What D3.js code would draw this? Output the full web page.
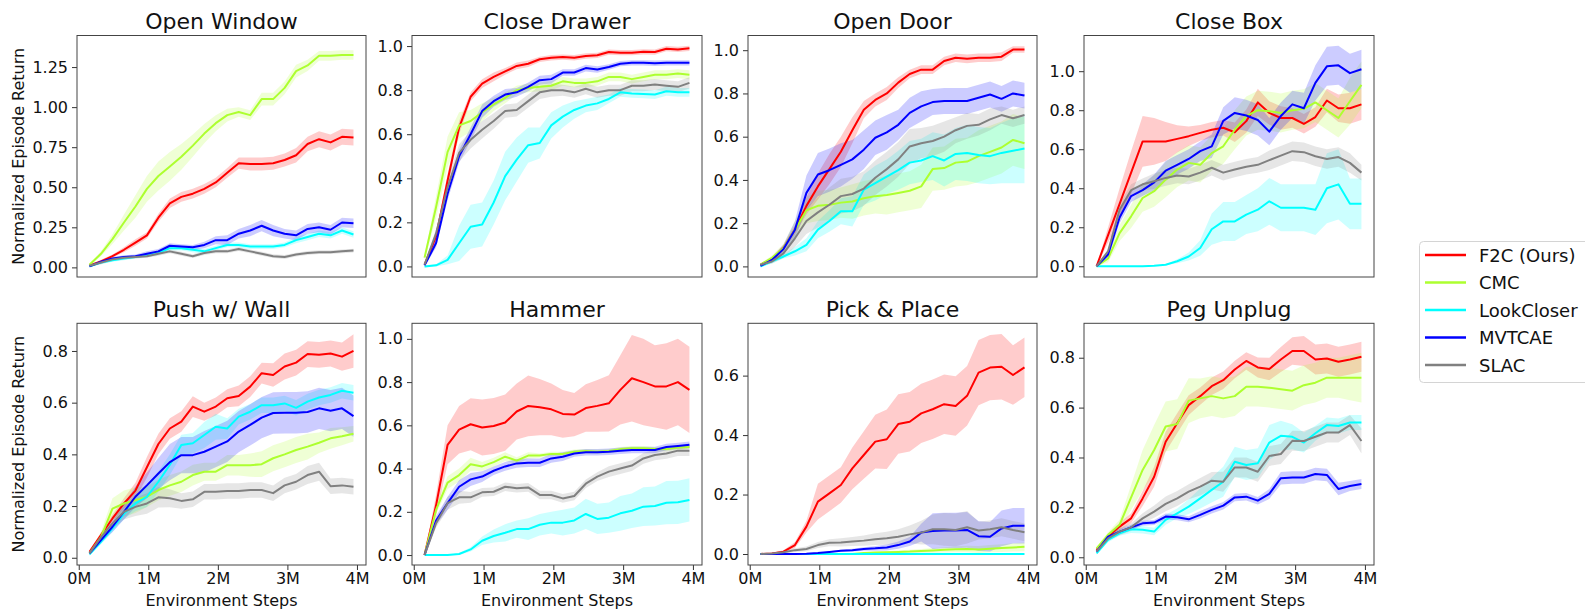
<!DOCTYPE html>
<html><head><meta charset="utf-8">
<script src="https://cdn.jsdelivr.net/npm/d3@7"></script>
<style>
body{margin:0;background:#fff;}
svg text{font-family:"DejaVu Sans",sans-serif;fill:#111;}
</style>
</head><body>
<svg id="chart" width="1585" height="610"></svg>
<script>
// ---------------- DATA ----------------
const steps = [0.155,0.32,0.485,0.65,0.815,0.98,1.145,1.31,1.475,1.64,1.805,1.97,2.135,2.3,2.465,2.63,2.795,2.96,3.125,3.29,3.455,3.62,3.785,3.95];
const seriesNames = ["F2C (Ours)","CMC","LookCloser","MVTCAE","SLAC"];
const seriesColors = ["#ff0000","#adff2f","#00ffff","#0000ff","#808080"];
const xTickValues = [0,1,2,3,4];
const xTickLabels = ["0M","1M","2M","3M","4M"];
const taskTitles = ["Open Window","Close Drawer","Open Door","Close Box","Push w/ Wall","Hammer","Pick & Place","Peg Unplug"];
const xAxisLabel = "Environment Steps";
const yAxisLabel = "Normalized Episode Return";

// Open Window
const owF2C = [0.012,0.037,0.07,0.11,0.155,0.20,0.31,0.40,0.44,0.46,0.49,0.53,0.59,0.65,0.645,0.645,0.65,0.67,0.70,0.77,0.80,0.78,0.815,0.81];
const owCMC = [0.017,0.085,0.176,0.28,0.38,0.49,0.57,0.63,0.69,0.76,0.835,0.90,0.95,0.97,0.95,1.05,1.05,1.12,1.225,1.26,1.32,1.32,1.325,1.325];
const owLC  = [0.006,0.03,0.045,0.055,0.065,0.075,0.09,0.12,0.12,0.11,0.10,0.12,0.14,0.14,0.13,0.13,0.13,0.14,0.17,0.19,0.21,0.20,0.23,0.205];
const owMV  = [0.006,0.035,0.055,0.065,0.07,0.085,0.10,0.135,0.13,0.125,0.14,0.17,0.17,0.21,0.23,0.26,0.23,0.21,0.20,0.24,0.25,0.235,0.28,0.275];
const owSL  = [0.01,0.03,0.05,0.06,0.065,0.07,0.085,0.10,0.085,0.07,0.09,0.10,0.10,0.115,0.10,0.085,0.07,0.065,0.08,0.09,0.095,0.095,0.10,0.105];
const owF2CErr = [0.005,0.01,0.01,0.015,0.02,0.02,0.025,0.03,0.03,0.03,0.03,0.03,0.03,0.035,0.04,0.04,0.04,0.04,0.045,0.045,0.05,0.05,0.05,0.05];
const owCMCErr = [0.005,0.015,0.03,0.05,0.07,0.08,0.09,0.09,0.08,0.07,0.06,0.05,0.04,0.03,0.03,0.04,0.04,0.04,0.04,0.035,0.03,0.03,0.03,0.03];
const owLCErr  = [0.005,0.01,0.01,0.01,0.01,0.01,0.015,0.015,0.015,0.015,0.015,0.015,0.015,0.015,0.015,0.015,0.015,0.015,0.02,0.02,0.02,0.02,0.02,0.02];
const owMVErr  = [0.005,0.01,0.01,0.01,0.01,0.015,0.015,0.015,0.015,0.015,0.02,0.025,0.03,0.03,0.035,0.035,0.035,0.03,0.03,0.03,0.03,0.03,0.03,0.03];
const owSLErr  = [0.005,0.01,0.01,0.01,0.01,0.01,0.012,0.012,0.012,0.012,0.012,0.012,0.012,0.012,0.012,0.012,0.012,0.012,0.012,0.012,0.012,0.012,0.012,0.012];

// Close Drawer
const cdF2C = [0.008,0.136,0.39,0.63,0.77,0.83,0.86,0.885,0.91,0.92,0.94,0.947,0.95,0.947,0.955,0.958,0.973,0.97,0.97,0.974,0.973,0.988,0.985,0.99];
const cdCMC = [0.04,0.27,0.52,0.64,0.66,0.70,0.735,0.765,0.80,0.81,0.815,0.82,0.84,0.833,0.833,0.84,0.86,0.86,0.85,0.86,0.87,0.87,0.875,0.87];
const cdLC  = [0.0,0.005,0.03,0.105,0.18,0.19,0.29,0.41,0.485,0.55,0.56,0.64,0.68,0.71,0.73,0.74,0.76,0.79,0.785,0.783,0.78,0.795,0.79,0.79];
const cdMV  = [0.005,0.106,0.33,0.50,0.60,0.705,0.75,0.78,0.79,0.815,0.845,0.85,0.88,0.88,0.90,0.894,0.905,0.92,0.924,0.924,0.922,0.924,0.924,0.924];
const cdSL  = [0.008,0.15,0.36,0.515,0.575,0.62,0.66,0.705,0.71,0.75,0.79,0.80,0.80,0.79,0.806,0.79,0.80,0.80,0.82,0.82,0.826,0.82,0.815,0.833];
const cdF2CErr = [0.005,0.02,0.03,0.03,0.02,0.02,0.02,0.015,0.015,0.015,0.012,0.012,0.012,0.012,0.012,0.012,0.012,0.012,0.012,0.012,0.012,0.012,0.012,0.012];
const cdCMCErr = [0.01,0.05,0.07,0.06,0.05,0.04,0.03,0.025,0.02,0.02,0.02,0.02,0.02,0.02,0.02,0.02,0.02,0.02,0.02,0.02,0.02,0.02,0.02,0.02];
const cdLCErr  = [0.005,0.005,0.02,0.08,0.1,0.1,0.1,0.11,0.1,0.08,0.07,0.06,0.05,0.04,0.03,0.03,0.02,0.02,0.02,0.02,0.02,0.02,0.02,0.02];
const cdMVErr  = [0.005,0.02,0.03,0.03,0.03,0.03,0.025,0.025,0.02,0.02,0.02,0.02,0.015,0.015,0.015,0.015,0.012,0.012,0.012,0.012,0.012,0.012,0.012,0.012];
const cdSLErr  = [0.005,0.02,0.03,0.04,0.04,0.04,0.035,0.03,0.03,0.03,0.03,0.03,0.025,0.025,0.025,0.025,0.025,0.025,0.025,0.025,0.025,0.025,0.025,0.025];

// Open Door
const odF2C = [0.008,0.034,0.085,0.17,0.28,0.37,0.45,0.53,0.63,0.725,0.77,0.80,0.85,0.89,0.91,0.91,0.95,0.965,0.96,0.965,0.965,0.97,1.003,1.003];
const odCMC = [0.008,0.04,0.085,0.17,0.26,0.28,0.285,0.295,0.30,0.315,0.325,0.33,0.34,0.35,0.37,0.45,0.455,0.48,0.485,0.51,0.53,0.55,0.585,0.57];
const odLC  = [0.0,0.023,0.046,0.07,0.10,0.17,0.21,0.255,0.255,0.355,0.385,0.415,0.445,0.48,0.49,0.51,0.49,0.52,0.525,0.515,0.51,0.525,0.535,0.545];
const odMV  = [0.003,0.03,0.08,0.17,0.34,0.425,0.445,0.47,0.495,0.54,0.595,0.62,0.655,0.71,0.74,0.76,0.765,0.765,0.765,0.78,0.795,0.775,0.80,0.79];
const odSL  = [0.008,0.023,0.06,0.13,0.21,0.25,0.285,0.325,0.335,0.36,0.41,0.45,0.495,0.555,0.57,0.58,0.60,0.63,0.65,0.655,0.68,0.70,0.685,0.70];
const odF2CErr = [0.005,0.01,0.015,0.02,0.04,0.06,0.07,0.07,0.06,0.04,0.03,0.03,0.025,0.02,0.02,0.02,0.02,0.02,0.02,0.02,0.02,0.02,0.015,0.015];
const odCMCErr = [0.005,0.01,0.02,0.04,0.06,0.07,0.07,0.07,0.08,0.08,0.08,0.09,0.09,0.09,0.1,0.1,0.1,0.11,0.11,0.12,0.12,0.12,0.12,0.12];
const odLCErr  = [0.005,0.01,0.01,0.02,0.03,0.04,0.05,0.06,0.07,0.07,0.08,0.08,0.09,0.1,0.1,0.11,0.12,0.12,0.13,0.13,0.13,0.14,0.15,0.16];
const odMVErr  = [0.005,0.01,0.02,0.04,0.08,0.1,0.1,0.1,0.09,0.09,0.08,0.08,0.07,0.07,0.07,0.06,0.06,0.06,0.06,0.06,0.06,0.06,0.06,0.06];
const odSLErr  = [0.005,0.01,0.02,0.04,0.06,0.07,0.08,0.08,0.08,0.08,0.08,0.08,0.08,0.08,0.07,0.07,0.07,0.06,0.06,0.05,0.05,0.04,0.04,0.04];

// Close Box
const cbF2C = [0.0,0.16,0.32,0.48,0.64,0.64,0.64,0.653,0.667,0.684,0.70,0.71,0.687,0.744,0.84,0.786,0.76,0.76,0.73,0.765,0.85,0.81,0.81,0.83];
const cbCMC = [0.0,0.04,0.17,0.256,0.35,0.385,0.444,0.496,0.53,0.52,0.58,0.615,0.70,0.77,0.80,0.795,0.786,0.80,0.807,0.84,0.80,0.76,0.846,0.93];
const cbLC  = [0,0,0,0,0,0.003,0.008,0.026,0.05,0.094,0.19,0.23,0.23,0.265,0.29,0.333,0.30,0.30,0.30,0.29,0.40,0.42,0.32,0.32];
const cbMV  = [0.0,0.06,0.25,0.36,0.39,0.43,0.49,0.52,0.55,0.59,0.615,0.745,0.786,0.773,0.75,0.69,0.77,0.83,0.81,0.94,1.025,1.03,0.99,1.01];
const cbSL  = [0.0,0.077,0.29,0.39,0.42,0.436,0.453,0.465,0.46,0.48,0.505,0.48,0.496,0.51,0.52,0.544,0.567,0.59,0.585,0.564,0.55,0.56,0.53,0.48];
const cbF2CErr = [0.0,0.04,0.08,0.11,0.13,0.12,0.1,0.07,0.05,0.04,0.04,0.04,0.05,0.06,0.07,0.06,0.06,0.05,0.05,0.05,0.06,0.07,0.08,0.08];
const cbCMCErr = [0.0,0.02,0.04,0.06,0.07,0.08,0.09,0.09,0.09,0.09,0.09,0.09,0.1,0.1,0.1,0.1,0.1,0.1,0.1,0.1,0.1,0.1,0.12,0.12];
const cbLCErr  = [0,0,0,0,0,0,0.002,0.01,0.02,0.04,0.08,0.1,0.1,0.1,0.11,0.12,0.12,0.12,0.12,0.13,0.18,0.18,0.13,0.13];
const cbMVErr  = [0,0.02,0.03,0.03,0.03,0.04,0.05,0.05,0.05,0.05,0.06,0.07,0.08,0.08,0.08,0.07,0.07,0.07,0.08,0.09,0.1,0.1,0.1,0.1];
const cbSLErr  = [0,0.01,0.03,0.03,0.03,0.04,0.04,0.04,0.04,0.04,0.04,0.04,0.04,0.04,0.04,0.05,0.05,0.05,0.05,0.05,0.05,0.05,0.05,0.04];

// Push w/ Wall
const pwF2C = [0.023,0.088,0.152,0.21,0.26,0.35,0.44,0.50,0.527,0.585,0.565,0.585,0.617,0.626,0.662,0.714,0.707,0.74,0.755,0.788,0.785,0.79,0.778,0.80];
const pwCMC = [0.017,0.08,0.19,0.21,0.223,0.236,0.262,0.28,0.294,0.32,0.333,0.333,0.358,0.358,0.358,0.362,0.385,0.40,0.417,0.43,0.445,0.462,0.47,0.48];
const pwLC  = [0.013,0.062,0.114,0.17,0.21,0.236,0.294,0.36,0.436,0.443,0.475,0.507,0.50,0.546,0.565,0.59,0.59,0.597,0.58,0.604,0.62,0.63,0.646,0.638];
const pwMV  = [0.017,0.068,0.12,0.178,0.236,0.28,0.326,0.37,0.397,0.397,0.41,0.43,0.45,0.488,0.514,0.542,0.56,0.561,0.561,0.564,0.578,0.569,0.578,0.548];
const pwSL  = [0.017,0.08,0.133,0.178,0.197,0.21,0.234,0.23,0.22,0.226,0.255,0.255,0.258,0.258,0.262,0.262,0.25,0.28,0.294,0.32,0.333,0.277,0.28,0.275];
const pwF2CErr = [0.005,0.01,0.015,0.02,0.03,0.04,0.04,0.04,0.04,0.04,0.035,0.035,0.035,0.04,0.04,0.04,0.045,0.05,0.05,0.05,0.05,0.05,0.055,0.065];
const pwCMCErr = [0.005,0.02,0.04,0.05,0.05,0.04,0.04,0.04,0.04,0.04,0.035,0.035,0.04,0.04,0.045,0.05,0.05,0.05,0.05,0.05,0.04,0.04,0.035,0.03];
const pwLCErr  = [0.005,0.01,0.015,0.02,0.03,0.04,0.04,0.04,0.04,0.04,0.05,0.05,0.04,0.03,0.03,0.03,0.03,0.03,0.03,0.03,0.03,0.03,0.03,0.03];
const pwMVErr  = [0.005,0.01,0.02,0.03,0.04,0.05,0.06,0.07,0.07,0.07,0.08,0.08,0.08,0.08,0.08,0.08,0.08,0.08,0.08,0.08,0.08,0.08,0.08,0.08];
const pwSLErr  = [0.005,0.01,0.02,0.03,0.035,0.04,0.04,0.035,0.03,0.03,0.03,0.03,0.03,0.03,0.03,0.03,0.03,0.03,0.03,0.035,0.035,0.03,0.03,0.03];

// Hammer
const hmF2C = [0.0,0.23,0.51,0.58,0.605,0.59,0.597,0.613,0.664,0.69,0.684,0.674,0.653,0.65,0.68,0.69,0.702,0.764,0.818,0.80,0.78,0.78,0.80,0.764];
const hmCMC = [0.0,0.21,0.335,0.37,0.42,0.41,0.43,0.455,0.437,0.46,0.46,0.468,0.468,0.478,0.481,0.478,0.481,0.49,0.494,0.494,0.49,0.49,0.497,0.50];
const hmLC  = [0,0,0,0.005,0.026,0.066,0.088,0.103,0.12,0.12,0.14,0.15,0.15,0.16,0.19,0.167,0.173,0.193,0.205,0.224,0.227,0.242,0.244,0.255];
const hmMV  = [0.0,0.16,0.24,0.316,0.35,0.363,0.39,0.41,0.424,0.427,0.427,0.447,0.455,0.47,0.475,0.475,0.478,0.483,0.486,0.486,0.486,0.50,0.505,0.51];
const hmSL  = [0.0,0.147,0.24,0.267,0.267,0.29,0.293,0.316,0.309,0.313,0.278,0.278,0.262,0.273,0.33,0.363,0.386,0.40,0.414,0.447,0.463,0.47,0.483,0.483];
const hmF2CErr = [0,0.05,0.09,0.11,0.12,0.13,0.13,0.13,0.13,0.14,0.13,0.12,0.11,0.1,0.11,0.12,0.13,0.16,0.2,0.2,0.19,0.2,0.2,0.2];
const hmCMCErr = [0,0.02,0.03,0.03,0.03,0.02,0.02,0.02,0.015,0.015,0.01,0.01,0.01,0.01,0.01,0.01,0.01,0.01,0.01,0.01,0.01,0.01,0.01,0.01];
const hmLCErr  = [0,0,0,0.005,0.01,0.02,0.03,0.04,0.04,0.05,0.05,0.05,0.06,0.06,0.07,0.07,0.07,0.08,0.08,0.09,0.09,0.1,0.1,0.1];
const hmMVErr  = [0,0.02,0.03,0.03,0.03,0.025,0.02,0.02,0.02,0.02,0.02,0.02,0.02,0.015,0.015,0.015,0.015,0.015,0.015,0.015,0.015,0.015,0.015,0.015];
const hmSLErr  = [0,0.02,0.03,0.03,0.025,0.02,0.02,0.02,0.02,0.02,0.02,0.02,0.02,0.02,0.02,0.02,0.025,0.025,0.025,0.025,0.025,0.025,0.025,0.025];

// Pick & Place
const ppF2C = [0,0.002,0.008,0.03,0.092,0.176,0.204,0.232,0.288,0.333,0.378,0.386,0.437,0.445,0.473,0.487,0.504,0.498,0.532,0.61,0.627,0.63,0.602,0.628];
const ppCMC = [0,0,0,0,0,0,0,0,0,0.003,0.005,0.006,0.007,0.008,0.01,0.012,0.014,0.016,0.017,0.015,0.018,0.02,0.022,0.024];
const ppLC  = [0,0,0,0,0,0,0,0,0,0,0,0,0,0,0,0,0,0,0,0,0,0,0,0];
const ppMV  = [0,0,0,0,0.001,0.003,0.007,0.011,0.013,0.017,0.019,0.022,0.03,0.042,0.072,0.077,0.079,0.079,0.081,0.06,0.058,0.086,0.095,0.095];
const ppSL  = [0,0.002,0.006,0.013,0.017,0.03,0.038,0.039,0.042,0.045,0.05,0.053,0.058,0.066,0.072,0.083,0.083,0.081,0.09,0.079,0.083,0.09,0.081,0.073];
const ppF2CErr = [0,0.002,0.005,0.01,0.02,0.06,0.06,0.06,0.07,0.08,0.09,0.1,0.1,0.1,0.1,0.1,0.1,0.1,0.1,0.11,0.11,0.11,0.1,0.1];
const ppCMCErr = [0,0,0,0,0,0,0,0,0,0.002,0.003,0.004,0.005,0.006,0.007,0.008,0.009,0.01,0.011,0.012,0.012,0.013,0.014,0.015];
const ppLCErr  = [0,0,0,0,0,0,0,0,0,0,0,0,0,0,0,0,0,0,0,0,0,0,0,0];
const ppMVErr  = [0,0,0,0,0,0,0.002,0.003,0.005,0.006,0.008,0.01,0.012,0.015,0.03,0.06,0.06,0.06,0.06,0.05,0.05,0.06,0.06,0.06];
const ppSLErr  = [0,0.002,0.004,0.006,0.008,0.01,0.012,0.014,0.015,0.017,0.02,0.022,0.025,0.03,0.04,0.05,0.055,0.055,0.055,0.03,0.03,0.03,0.03,0.03];

// Peg Unplug
const puF2C = [0.03,0.083,0.123,0.156,0.236,0.323,0.463,0.537,0.61,0.646,0.686,0.71,0.753,0.787,0.761,0.755,0.793,0.827,0.827,0.793,0.797,0.784,0.793,0.804];
const puCMC = [0.036,0.09,0.13,0.24,0.35,0.43,0.524,0.534,0.628,0.637,0.646,0.637,0.646,0.684,0.684,0.68,0.674,0.668,0.69,0.70,0.72,0.72,0.72,0.72];
const puLC  = [0.016,0.07,0.096,0.112,0.11,0.103,0.15,0.176,0.203,0.236,0.27,0.303,0.383,0.37,0.377,0.46,0.487,0.483,0.46,0.497,0.53,0.526,0.54,0.54];
const puMV  = [0.023,0.083,0.103,0.12,0.136,0.139,0.163,0.16,0.152,0.17,0.19,0.207,0.24,0.243,0.227,0.254,0.317,0.32,0.32,0.334,0.33,0.274,0.286,0.294];
const puSL  = [0.023,0.076,0.103,0.12,0.156,0.183,0.214,0.236,0.263,0.283,0.307,0.303,0.36,0.36,0.343,0.406,0.414,0.467,0.466,0.483,0.50,0.50,0.53,0.466];
const puF2CErr = [0.005,0.01,0.015,0.02,0.03,0.04,0.04,0.04,0.04,0.035,0.035,0.035,0.035,0.035,0.04,0.045,0.05,0.055,0.06,0.06,0.06,0.06,0.06,0.06];
const puCMCErr = [0.005,0.01,0.02,0.05,0.08,0.1,0.1,0.1,0.09,0.08,0.08,0.08,0.08,0.08,0.08,0.08,0.08,0.08,0.08,0.08,0.08,0.08,0.09,0.1];
const puLCErr  = [0.005,0.01,0.01,0.015,0.015,0.015,0.02,0.02,0.03,0.04,0.05,0.06,0.06,0.06,0.06,0.07,0.06,0.05,0.04,0.03,0.03,0.03,0.03,0.03];
const puMVErr  = [0.005,0.01,0.01,0.01,0.01,0.01,0.012,0.012,0.012,0.015,0.015,0.015,0.015,0.015,0.015,0.02,0.025,0.025,0.025,0.025,0.025,0.025,0.02,0.02];
const puSLErr  = [0.005,0.01,0.015,0.015,0.02,0.025,0.03,0.03,0.03,0.035,0.035,0.04,0.04,0.04,0.04,0.04,0.04,0.04,0.04,0.04,0.04,0.04,0.04,0.05];

// y-axis tick values per panel
const yTicksOW = [0,0.25,0.5,0.75,1.0,1.25];
const yTicksUnit = [0,0.2,0.4,0.6,0.8,1.0];
const yTicksPW = [0,0.2,0.4,0.6,0.8];
const yTicksPP = [0,0.2,0.4,0.6];

// ---------------- LAYOUT ----------------
const cols = [[77,366],[412,702],[748,1037],[1084,1374]];
const rows = [[35.5,277],[323.3,565]];
const panels = [
  {means:[owF2C,owCMC,owLC,owMV,owSL], errs:[owF2CErr,owCMCErr,owLCErr,owMVErr,owSLErr], ydom:[-0.06,1.447], yticks:yTicksOW, fmt:".2f"},
  {means:[cdF2C,cdCMC,cdLC,cdMV,cdSL], errs:[cdF2CErr,cdCMCErr,cdLCErr,cdMVErr,cdSLErr], ydom:[-0.048,1.048], yticks:yTicksUnit, fmt:".1f"},
  {means:[odF2C,odCMC,odLC,odMV,odSL], errs:[odF2CErr,odCMCErr,odLCErr,odMVErr,odSLErr], ydom:[-0.049,1.068], yticks:yTicksUnit, fmt:".1f"},
  {means:[cbF2C,cbCMC,cbLC,cbMV,cbSL], errs:[cbF2CErr,cbCMCErr,cbLCErr,cbMVErr,cbSLErr], ydom:[-0.055,1.183], yticks:yTicksUnit, fmt:".1f"},
  {means:[pwF2C,pwCMC,pwLC,pwMV,pwSL], errs:[pwF2CErr,pwCMCErr,pwLCErr,pwMVErr,pwSLErr], ydom:[-0.028,0.907], yticks:yTicksPW, fmt:".1f"},
  {means:[hmF2C,hmCMC,hmLC,hmMV,hmSL], errs:[hmF2CErr,hmCMCErr,hmLCErr,hmMVErr,hmSLErr], ydom:[-0.046,1.072], yticks:yTicksUnit, fmt:".1f"},
  {means:[ppF2C,ppCMC,ppLC,ppMV,ppSL], errs:[ppF2CErr,ppCMCErr,ppLCErr,ppMVErr,ppSLErr], ydom:[-0.037,0.776], yticks:yTicksPP, fmt:".1f"},
  {means:[puF2C,puCMC,puLC,puMV,puSL], errs:[puF2CErr,puCMCErr,puLCErr,puMVErr,puSLErr], ydom:[-0.031,0.938], yticks:yTicksPW, fmt:".1f"}
];

const svg = d3.select("#chart");
const defs = svg.append("defs");

panels.forEach((p, i) => {
  const r = Math.floor(i / 4), c = i % 4;
  const [x0, x1] = cols[c];
  const [y0, y1] = rows[r];
  const x = d3.scaleLinear().domain([-0.025, 4.13]).range([x0, x1]);
  const y = d3.scaleLinear().domain(p.ydom).range([y1, y0]);
  const g = svg.append("g");
  const clipId = "clip" + i;
  defs.append("clipPath").attr("id", clipId)
    .append("rect").attr("x", x0).attr("y", y0).attr("width", x1 - x0).attr("height", y1 - y0);
  const plot = g.append("g").attr("clip-path", `url(#${clipId})`);

  p.means.forEach((m, s) => {
    const e = p.errs[s];
    const pts = steps.map((st, k) => ({x: st, m: m[k], e: e[k]}));
    const area = d3.area().x(d => x(d.x)).y0(d => y(d.m - d.e)).y1(d => y(d.m + d.e));
    plot.append("path").datum(pts).attr("d", area)
      .attr("fill", seriesColors[s]).attr("fill-opacity", 0.2).attr("stroke", "none");
  });
  p.means.forEach((m, s) => {
    const pts = steps.map((st, k) => ({x: st, m: m[k]}));
    const line = d3.line().x(d => x(d.x)).y(d => y(d.m));
    plot.append("path").datum(pts).attr("d", line)
      .attr("fill", "none").attr("stroke", seriesColors[s]).attr("stroke-width", 2)
      .attr("stroke-linejoin", "round");
  });

  // y axis
  const yAxis = d3.axisLeft(y).tickValues(p.yticks).tickFormat(d3.format(p.fmt)).tickSize(5).tickPadding(4);
  const ya = g.append("g").attr("transform", `translate(${x0},0)`).call(yAxis);
  ya.select(".domain").remove();
  ya.selectAll("line").attr("stroke", "#333").attr("stroke-width", 1);
  ya.selectAll("text").style("font-size", "16px").style("font-family", "DejaVu Sans").attr("fill", "#111");

  if (r === 1) {
    const xAxis = d3.axisBottom(x).tickValues(xTickValues).tickFormat((d, k) => xTickLabels[k]).tickSize(5).tickPadding(3);
    const xa = g.append("g").attr("transform", `translate(0,${y1})`).call(xAxis);
    xa.select(".domain").remove();
    xa.selectAll("line").attr("stroke", "#333").attr("stroke-width", 1);
    xa.selectAll("text").style("font-size", "16px").style("font-family", "DejaVu Sans").attr("fill", "#111");
    g.append("text").attr("x", (x0 + x1) / 2).attr("y", 606).attr("text-anchor", "middle")
      .style("font-size", "16px").text(xAxisLabel);
  }

  // frame
  g.append("rect").attr("x", x0).attr("y", y0).attr("width", x1 - x0).attr("height", y1 - y0)
    .attr("fill", "none").attr("stroke", "#444").attr("stroke-width", 1);

  // title
  g.append("text").attr("x", (x0 + x1) / 2).attr("y", r === 0 ? 29 : 317).attr("text-anchor", "middle")
    .style("font-size", "22px").text(taskTitles[i]);

  if (c === 0) {
    const cy = (y0 + y1) / 2;
    g.append("text").attr("transform", `translate(24,${cy}) rotate(-90)`).attr("text-anchor", "middle")
      .style("font-size", "16px").text(yAxisLabel);
  }
});

// legend
const lg = svg.append("g");
lg.append("rect").attr("x", 1419.5).attr("y", 241.5).attr("width", 180).attr("height", 141)
  .attr("rx", 4).attr("fill", "#fff").attr("stroke", "#d4d4d4").attr("stroke-width", 1);
seriesNames.forEach((n, s) => {
  const cy = 255 + s * 27.5;
  lg.append("line").attr("x1", 1425).attr("x2", 1466).attr("y1", cy).attr("y2", cy)
    .attr("stroke", seriesColors[s]).attr("stroke-width", 2.5);
  lg.append("text").attr("x", 1479).attr("y", cy + 6.5).style("font-size", "18px").text(n);
});
</script>
</body></html>
